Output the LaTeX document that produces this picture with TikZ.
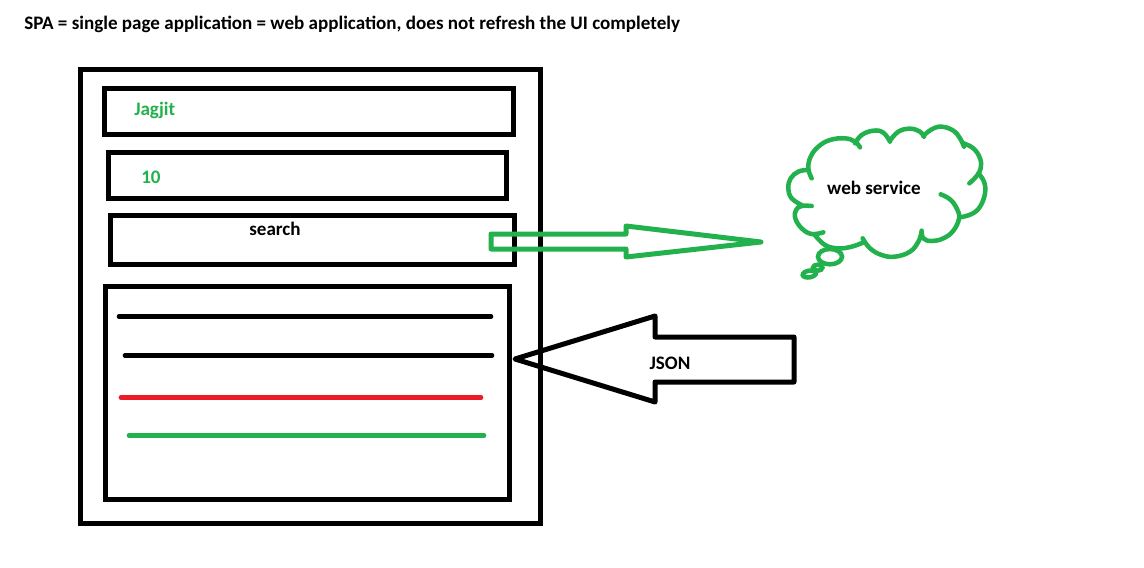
\documentclass[tikz,border=0pt]{standalone}
\usepackage{fontspec}
\setmainfont{Carlito}
\usetikzlibrary{positioning}
\definecolor{paintgreen}{HTML}{22B14C}
\definecolor{paintred}{HTML}{ED1C24}
\tikzset{
	panel/.style={draw,line width=3.75pt,inner sep=0pt,outer sep=0pt},
	listline/.style={line width=3.5pt,line cap=round},
	blockarrow/.style={line width=3.75pt,line join=round},
	cloudline/.style={draw=paintgreen,line width=3.4pt,line cap=round},
	label/.style={font=\bfseries\fontsize{14.3pt}{16pt}\selectfont,inner sep=0pt},
}
\begin{document}
\begin{tikzpicture}[x=0.75pt,y=-0.75pt]
	\useasboundingbox (0,0) rectangle (1144,567);

	\node[label,anchor=west] (title) at (24,24) {SPA = single page application = web application, does not refresh the UI completely};

	\node[panel,minimum width=345pt,minimum height=339.75pt] (page) at (310,296.5) {};
	\node[panel,minimum width=306.75pt,minimum height=34.5pt] (namebox) at (308.5,111) {};
	\node[panel,minimum width=298.5pt,minimum height=34.5pt] (agebox) at (307,175) {};
	\node[panel,minimum width=303pt,minimum height=36.75pt] (searchbox) at (312,239.5) {};
	\node[panel,minimum width=303pt,minimum height=159.75pt] (resultbox) at (307,392.5) {};

	\node[label,text=paintgreen,anchor=west] (name) at (134,110) {Jagjit};
	\node[label,text=paintgreen,anchor=west] (age) at (141,177) {10};
	\node[label] (search) at (275,229) {search};

	\draw[listline] (119,316.5) -- (491,316.5);
	\draw[listline] (125,355.5) -- (492,355.5);
	\draw[listline,paintred] (121,397.5) -- (481,397.5);
	\draw[listline,paintgreen] (129,435.5) -- (484,435.5);

	% request and response
	\draw[blockarrow,paintgreen] (491,234) -- (626,234) -- (626,226) -- (761,242) -- (626,257) -- (626,249) -- (491,249) -- cycle;
	\draw[blockarrow] (515,359) -- (655,316) -- (655,337) -- (794,337) -- (794,382) -- (655,382) -- (655,402) -- cycle;
	\node[label] (json) at (670,363) {JSON};

	% cloud
	\begin{scope}[shift={(770,110)},x=0.25pt,y=-0.25pt]
		\draw[cloudline] plot[smooth,tension=0.7] coordinates {(125,205) (115,175) (122,140) (145,110) (180,90) (225,85) (255,95) (270,112)};
		\draw[cloudline] plot[smooth,tension=0.7] coordinates {(255,100) (275,75) (310,62) (340,68) (360,95)};
		\draw[cloudline] plot[smooth,tension=0.7] coordinates {(360,92) (385,65) (420,56) (450,65) (462,80)};
		\draw[cloudline] plot[smooth,tension=0.7] coordinates {(460,78) (485,58) (515,50) (550,62) (570,85) (582,110)};
		\draw[cloudline] plot[smooth,tension=0.7] coordinates {(580,100) (610,115) (630,145) (632,175) (620,198) (598,220)};
		\draw[cloudline] plot[smooth,tension=0.7] coordinates {(625,190) (642,215) (645,250) (630,290) (605,312) (570,322)};
		\draw[cloudline] plot[smooth,tension=0.7] coordinates {(512,253) (540,268) (560,295) (567,325) (550,362) (520,385) (485,393) (460,385) (455,362)};
		\draw[cloudline] plot[smooth,tension=0.7] coordinates {(455,365) (445,395) (420,425) (375,440) (335,435) (300,415) (278,385)};
		\draw[cloudline] plot[smooth,tension=0.7] coordinates {(278,398) (245,410) (205,415) (165,405) (132,372)};
		\draw[cloudline] plot[smooth,tension=0.7] coordinates {(160,367) (125,372) (95,355) (76,325) (78,300) (95,288) (125,288)};
		\draw[cloudline] plot[smooth,tension=0.7] coordinates {(112,180) (85,185) (62,205) (55,235) (65,265) (95,285)};
		\draw[cloudline] (180,440) ellipse (36 and 23);
		\draw[cloudline] (143,473) ellipse (14 and 9);
		\draw[cloudline,rotate around={10:(118,492)}] (118,492) ellipse (20 and 10);
	\end{scope}
	\node[label] (service) at (874,188) {web service};
\end{tikzpicture}
\end{document}
